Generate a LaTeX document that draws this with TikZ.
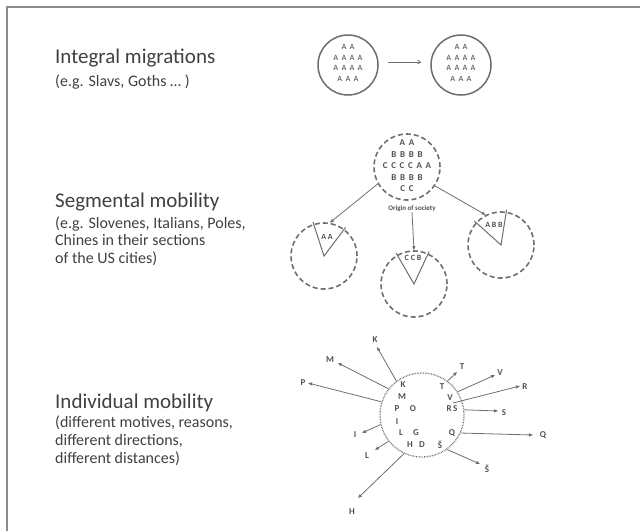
\documentclass[tikz,border=0pt]{standalone}
\usepackage{fontspec}
\setmainfont{Carlito}
\usetikzlibrary{arrows.meta,calc}
\definecolor{txt}{HTML}{404040}
\definecolor{ln}{HTML}{6E6E6E}
\definecolor{lt}{HTML}{505050}
\definecolor{fr}{HTML}{8C8C8C}
\newfontfamily\wideA[WordSpace=2.1]{Carlito}
\newfontfamily\wideB[WordSpace=1.8]{Carlito}
\tikzset{
  title/.style={anchor=base west, inner sep=0, text=txt, font=\fontsize{21}{25}\selectfont},
  sub/.style={anchor=base west, inner sep=0, text=txt, font=\fontsize{16}{18}\selectfont},
  solidc/.style={circle, draw=ln, line width=1.5pt, minimum size=60pt, inner sep=0},
  dashc/.style={circle, draw=ln, line width=1.6pt, dash pattern=on 5pt off 3pt, minimum size=66pt, inner sep=0},
  dotc/.style={circle, draw=ln, line width=1.3pt, dash pattern=on 0.7pt off 0.9pt, minimum size=84pt, inner sep=0},
  lettA/.style={text=ln, font=\wideA\fontsize{8}{10.6}\selectfont\bfseries, inner sep=0, align=center},
  lettB/.style={text=lt, font=\wideB\fontsize{9}{11.5}\selectfont\bfseries, inner sep=0, align=center},
  lettW/.style={text=lt, font=\fontsize{8}{10}\selectfont\bfseries, inner sep=0},
  lettC/.style={text=lt, font=\fontsize{9}{10}\selectfont\bfseries, inner sep=0},
  conn/.style={draw=ln, line width=0.8pt, -{Triangle[length=4pt,width=3pt]}},
  plain/.style={draw=ln, line width=0.8pt},
  wedge/.style={draw=ln, line width=1pt},
  frameline/.style={draw=fr, line width=1.3pt},
}
\begin{document}
\begin{tikzpicture}[x=1pt,y=-1pt]
\useasboundingbox (0,0) rectangle (640,531);
\draw[frameline] (7,531) -- (7,7) -- (640,7);

% ---- texts
\node[title] (t1) at (55,63.5) {Integral migrations};
\node[sub] (s1) at (55,86) {(e.g. Slavs, Goths \dots{} )};
\node[title] (t2) at (55,207) {Segmental mobility};
\node[sub] (s2a) at (55,228) {(e.g. Slovenes, Italians, Poles,};
\node[sub] (s2b) at (55,245.5) {Chines in their sections};
\node[sub] (s2c) at (55,263) {of the US cities)};
\node[title] (t3) at (55,408) {Individual mobility};
\node[sub] (s3a) at (55,427) {(different motives, reasons,};
\node[sub] (s3b) at (55,445) {different directions,};
\node[sub] (s3c) at (55,463.5) {different distances)};

% ---- integral migrations
\node[solidc] (i1) at (348,65) {};
\node[solidc] (i2) at (461,65) {};
\node[lettA] (i1t) at (348,63) {A A\\A A A A\\A A A A\\A A A};
\node[lettA] (i2t) at (461,63) {A A\\A A A A\\A A A A\\A A A};
\draw[plain, -{Straight Barb[length=3pt,width=4pt]}] ($(i1.east)+(9,-3)$) -- ($(i2.west)+(-9,-3)$);

% ---- segmental mobility
\node[dashc] (top) at (407,167) {};
\node[lettB] (topt) at (407,166) {A A\\B B B B\\C C C C A A\\B B B B\\C C};
\node[text=lt, font=\fontsize{7}{8}\selectfont\bfseries, inner sep=0] (orig) at (412,209) {Origin of society};
\node[dashc] (cl) at (324,256) {};
\node[dashc] (cm) at (414,284) {};
\node[dashc] (cr) at (501,245) {};
\draw[conn] (top.210) -- (cl.80);
\draw[conn] (orig.south) -- (cm.north);
\draw[conn] (top.326) -- (cr.117);
% wedges
\draw[wedge] ($(cl.center)!1.06!(cl.108)$) -- (cl.center) -- ($(cl.center)!1.06!(cl.53)$);
\draw[wedge] ($(cm.center)!1.06!(cm.120)$) -- (cm.center) -- ($(cm.center)!1.06!(cm.65)$);
\draw[wedge] ($(cr.center)!1.06!(cr.138)$) -- (cr.center) -- ($(cr.center)!1.06!(cr.81)$);
\node[lettW] (wl) at (327,237) {A A};
\node[lettW] (wm) at (413,258) {C C B};
\node[lettW] (wr) at (494,225) {A B B};

% ---- individual mobility
\node[dotc] (ind) at (422,415) {};
\node[lettC] (iK) at (403,385) {K};
\node[lettC] (iT) at (442,387) {T};
\node[lettC] (iM) at (402,397) {M};
\node[lettC] (iV) at (450,398) {V};
\node[lettC] (iP) at (397,409) {P};
\node[lettC] (iO) at (413,409) {O};
\node[lettC] (iRS) at (452,409) {R\,S};
\node[lettC] (iI) at (397,422) {I};
\node[lettC] (iL) at (401,433) {L};
\node[lettC] (iG) at (416,433) {G};
\node[lettC] (iQ) at (452,433) {Q};
\node[lettC] (iH) at (410,445) {H};
\node[lettC] (iD) at (422,445) {D};
\node[lettC] (iS2) at (440,445) {Š};

% outer labels
\node[lettC] (oK) at (375,340) {K};
\node[lettC] (oM) at (330,360) {M};
\node[lettC] (oP) at (303,383) {P};
\node[lettC] (oT) at (462,367) {T};
\node[lettC] (oV) at (500,373) {V};
\node[lettC] (oR) at (525,387) {R};
\node[lettC] (oS) at (504,413) {S};
\node[lettC] (oI) at (355,435) {I};
\node[lettC] (oQ) at (543,435) {Q};
\node[lettC] (oL) at (367,456) {L};
\node[lettC] (oS2) at (487,469) {Š};
\node[lettC] (oH) at (352,512) {H};

% arrow end points
\coordinate (eK) at (377,347);
\coordinate (eM) at (338,363);
\coordinate (eP) at (308,383);
\coordinate (eT) at (457,372);
\coordinate (eV) at (495,375);
\coordinate (eR) at (520,386);
\coordinate (eS) at (498,411);
\coordinate (eI) at (362,433);
\coordinate (eQ) at (533,435);
\coordinate (eL) at (375,450);
\coordinate (eS2) at (480,464);
\coordinate (eH) at (358,498);
\coordinate (sR) at (453,403);

\draw[conn] (ind.127) -- (eK);
\draw[conn] (ind.142) -- (eM);
\draw[conn] (ind.162) -- (eP);
\draw[conn] (ind.53) -- (eT);
\draw[conn] (ind.33) -- (eV);
\draw[conn] (sR) -- (eR);
\draw[conn] (ind.7) -- (eS);
\draw[conn] (ind.193) -- (eI);
\draw[conn] (ind.-25) -- (eQ);
\draw[conn] (ind.218) -- (eL);
\draw[conn] (ind.-54) -- (eS2);
\draw[conn] (ind.245) -- (eH);
\end{tikzpicture}
\end{document}
